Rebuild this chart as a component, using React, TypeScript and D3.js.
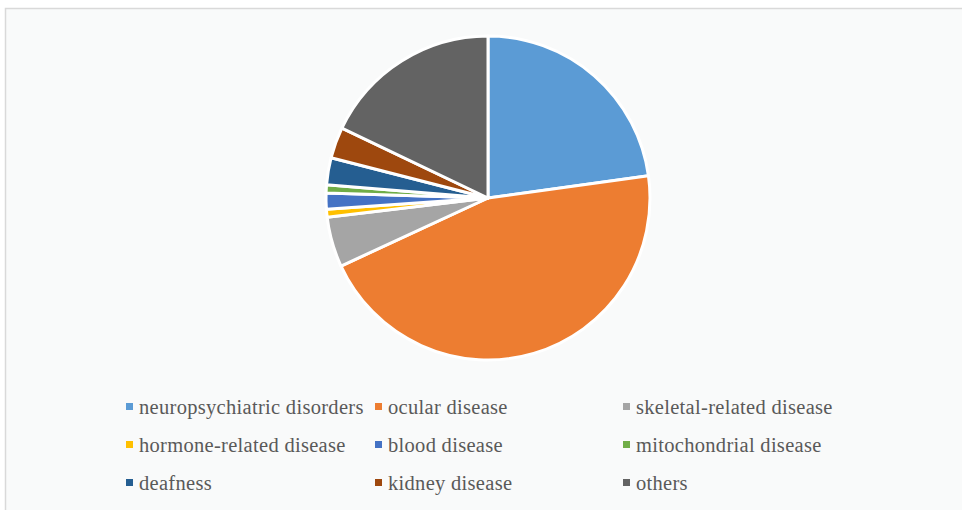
import React from "react";
import * as d3 from "d3";

const categories = [
  "neuropsychiatric disorders",
  "ocular disease",
  "skeletal-related disease",
  "hormone-related disease",
  "blood disease",
  "mitochondrial disease",
  "deafness",
  "kidney disease",
  "others",
];
const values = [22.8, 45.3, 5.0, 0.8, 1.6, 0.8, 2.7, 3.1, 17.9];
const colors = [
  "#5B9BD5",
  "#ED7D31",
  "#A5A5A5",
  "#FFC000",
  "#4472C4",
  "#70AD47",
  "#255E91",
  "#9E480E",
  "#636363",
];

export default function App() {
  const W = 962;
  const H = 510;
  const cx = 488;
  const cy = 198;
  const R = 162;

  const pie = d3
    .pie<number>()
    .sort(null)
    .value((d) => d);
  const arcs = pie(values);
  const arc = d3.arc<d3.PieArcDatum<number>>().innerRadius(0).outerRadius(R);

  const colX = [126, 375, 623];
  const rowY = [406.5, 444.5, 482.5];

  return (
    <svg
      width={W}
      height={H}
      style={{ position: "absolute", left: 0, top: 0 }}
      xmlns="http://www.w3.org/2000/svg"
    >
      <rect x={0} y={0} width={W} height={H} fill="#ffffff" />
      <rect
        x={5.5}
        y={8.5}
        width={W + 20}
        height={H + 20}
        fill="#f9fafa"
        stroke="#d9d9d9"
        strokeWidth={1.5}
      />
      <g transform={`translate(${cx},${cy})`}>
        {arcs.map((a, i) => (
          <path
            key={categories[i]}
            d={arc(a) || ""}
            fill={colors[i]}
            stroke="#ffffff"
            strokeWidth={3}
            strokeLinejoin="round"
          />
        ))}
      </g>
      <g>
        {categories.map((c, i) => {
          const col = i % 3;
          const row = Math.floor(i / 3);
          const x = colX[col];
          const y = rowY[row];
          return (
            <g key={c}>
              <rect x={x} y={y - 3.5} width={7} height={7} fill={colors[i]} />
              <text
                x={x + 13}
                y={y + 7}
                style={{
                  fontFamily: '"Liberation Serif", "Times New Roman", serif',
                  fontSize: "20.5px",
                  letterSpacing: "0.3px",
                }}
                fill="#595959"
              >
                {c}
              </text>
            </g>
          );
        })}
      </g>
    </svg>
  );
}
